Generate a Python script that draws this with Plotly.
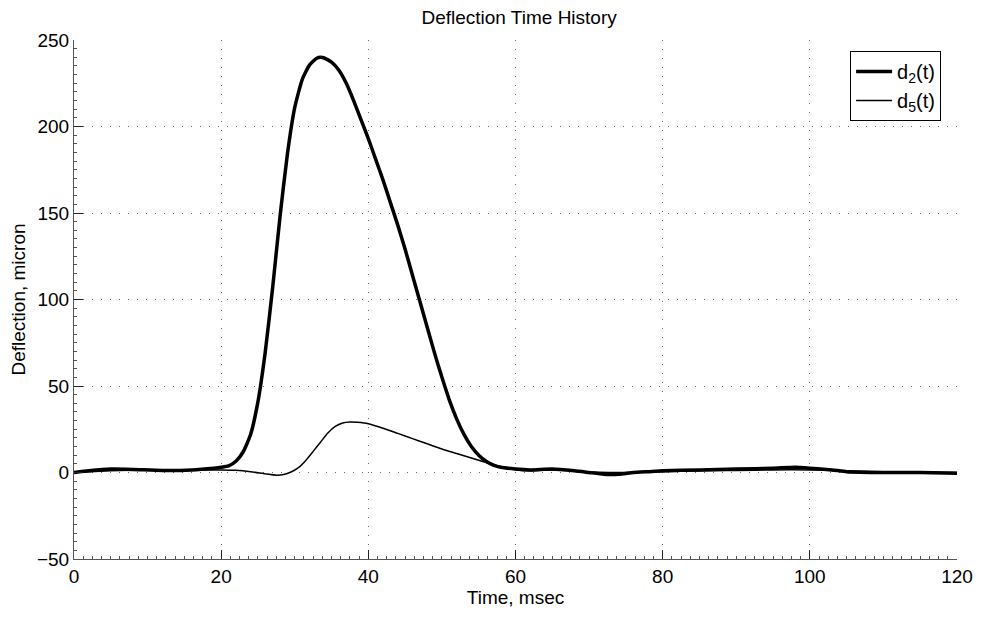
import plotly.graph_objects as go

t_d2 = [0, 2, 5, 8, 12, 16, 19, 20, 21, 22, 23, 24, 25, 26, 27, 28, 29, 30, 31, 32, 33, 33.5,
        34, 35, 36, 37, 38, 39, 40, 41, 42, 43, 44, 45, 46, 47, 48, 49, 50, 51, 52, 53, 54, 55,
        56, 57, 58, 60, 62, 65, 68, 70, 72, 74, 76, 78, 80, 85, 90, 95, 98, 100, 103, 105,
        110, 115, 120]
d2 = [0, 1, 2, 1.8, 1.2, 1.5, 2.5, 3, 3.8, 6.5, 12, 22, 41, 70, 107, 148, 184, 211, 227, 235.5, 239.5, 240,
      239.6, 237.2, 232.5, 225, 215, 204, 193, 181, 169, 156, 143, 129, 114, 99, 84, 69, 55, 42, 31, 22, 15, 10,
      6.5, 4.3, 3, 2, 1.5, 2, 1, 0, -1, -1, 0, 0.5, 1, 1.5, 2, 2.5, 3, 2.5, 1.5, 0.5,
      0, 0, -0.5]

t_d5 = [0, 5, 10, 15, 20, 22, 24, 26, 27.5, 28.5, 29.5, 30.5, 31.5, 32.5, 33.5, 34.5, 35.5, 36.5, 37.5, 38.5,
        40, 42, 44, 46, 48, 50, 52, 54, 56, 58, 60, 62, 65, 68, 70, 75, 80, 85, 90, 95, 100, 105, 110, 120]
d5 = [0, 1, 1.5, 1.5, 1.5, 1.3, 0.5, -0.8, -1.6, -1.2, 0.3, 2.8, 7, 12.2, 17.5, 22.8, 26.6, 28.6, 29.2, 29.0,
      28.2, 25.6, 22.6, 19.6, 16.6, 13.6, 11, 8.4, 5.8, 3.4, 1.6, 1, 1.5, 1, 0.5, 0, 0.5, 1, 1.2, 1.5, 1.5, 1, 0.5, 0]

x_ticks = [0, 20, 40, 60, 80, 100, 120]
y_ticks = [-50, 0, 50, 100, 150, 200, 250]
y_tick_text = ["\u221250", "0", "50", "100", "150", "200", "250"]

FONT = "Liberation Sans, Arial, Helvetica, sans-serif"
FS = 19

fig = go.Figure()
fig.add_trace(go.Scatter(x=t_d2, y=d2, mode="lines", name="d<sub>2</sub>(t)",
                         line=dict(color="black", width=3.5, shape="spline", smoothing=0.5)))
fig.add_trace(go.Scatter(x=t_d5, y=d5, mode="lines", name="d<sub>5</sub>(t)",
                         line=dict(color="black", width=1.5, shape="spline", smoothing=0.5)))

axis_common = dict(
    showgrid=True, gridcolor="#6a6a6a", griddash="1px,8px", gridwidth=1,
    showline=True, linecolor="#555555", linewidth=1,
    ticks="inside", ticklen=9, tickcolor="#222222", tickwidth=1,
    zeroline=False, mirror=False,
    tickfont=dict(family=FONT, size=FS, color="black"),
)

fig.update_xaxes(range=[0, 120], tickvals=x_ticks,
                 title=dict(text="Time, msec", font=dict(family=FONT, size=FS, color="black"), standoff=2),
                 minor=dict(dtick=1.25, ticks="inside", ticklen=3, tickcolor="#555555", showgrid=False),
                 **axis_common)
fig.update_yaxes(range=[-50, 250], tickvals=y_ticks, ticktext=y_tick_text,
                 title=dict(text="Deflection, micron", font=dict(family=FONT, size=FS, color="black"), standoff=6),
                 minor=dict(dtick=5, ticks="inside", ticklen=3, tickcolor="#555555", showgrid=False),
                 **axis_common)

fig.update_layout(
    width=985, height=617,
    margin=dict(l=74, r=22, t=40, b=58),
    paper_bgcolor="white", plot_bgcolor="white",
    title=dict(text="Deflection Time History", x=0.527, xanchor="center", y=0.972, yanchor="middle",
               font=dict(family=FONT, size=FS, color="black")),
    legend=dict(x=0.982, xanchor="right", y=0.979, yanchor="top",
                bordercolor="black", borderwidth=1, bgcolor="white",
                font=dict(family=FONT, size=20, color="black"),
                tracegroupgap=0, itemwidth=36),
    showlegend=True,
)

fig.write_html("out.html")
